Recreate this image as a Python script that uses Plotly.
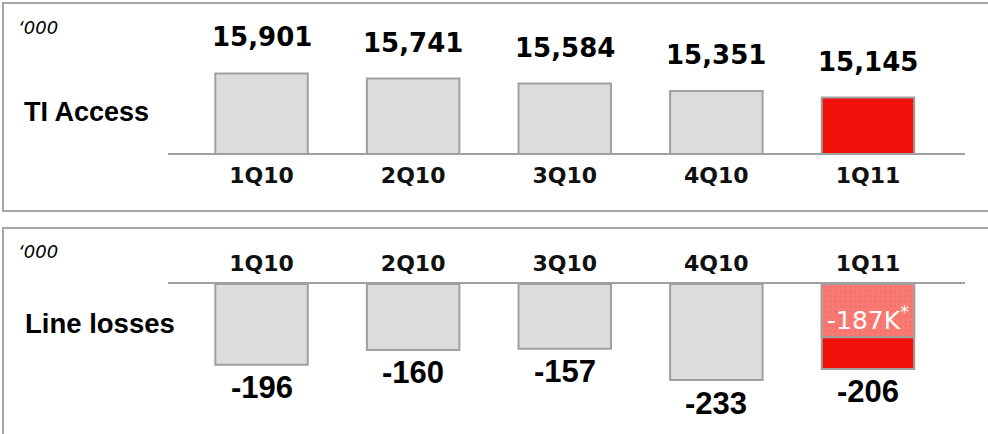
import plotly.graph_objects as go

# ---- data ----
quarters = ["1Q10", "2Q10", "3Q10", "4Q10", "1Q11"]
ti_access = [15901, 15741, 15584, 15351, 15145]
ti_access_labels = ["15,901", "15,741", "15,584", "15,351", "15,145"]
line_losses = [-196, -160, -157, -233, -206]
line_losses_labels = ["-196", "-160", "-157", "-233", "-206"]
hatched_quarter = ["1Q11"]
hatched_part = [-129]           # visual size of the dotted "-187K*" segment
hatched_label = "-187K<sup>*</sup>"
unit_label = "‘000"
row_titles = ["TI Access", "Line losses"]

# ---- styles ----
W, H = 988, 434
GRAY_FILL = "#dcdcdc"
EDGE = "#a0a0a0"
RED = "#f2100a"
LIGHT_RED = "#f97a72"
DOT_RED = "#e65a52"
FRAME = "#a6a6a6"
top_colors = [GRAY_FILL] * (len(quarters) - 1) + [RED]
bot_colors = [GRAY_FILL] * (len(quarters) - 1) + [RED]

def px_x(p):
    return p / W

def px_y(p):
    return 1 - p / H

BAR_W = 0.61
xrange_ = [-0.617, 4.64]
xdom = [px_x(168), px_x(965)]

fig = go.Figure()
fig.add_trace(go.Bar(
    x=quarters, y=ti_access, xaxis="x", yaxis="y", width=BAR_W,
    marker=dict(color=top_colors, line=dict(color=EDGE, width=2)),
    hoverinfo="skip", showlegend=False))
fig.add_trace(go.Bar(
    x=quarters, y=line_losses, xaxis="x2", yaxis="y2", width=BAR_W,
    marker=dict(color=bot_colors, line=dict(color=EDGE, width=2)),
    hoverinfo="skip", showlegend=False))
fig.add_trace(go.Bar(
    x=hatched_quarter, y=hatched_part, xaxis="x2", yaxis="y2", width=BAR_W,
    marker=dict(color=LIGHT_RED, line=dict(color=EDGE, width=2),
                pattern=dict(shape=".", fgcolor=DOT_RED, bgcolor=LIGHT_RED,
                             size=5, solidity=0.12)),
    hoverinfo="skip", showlegend=False))

cat_font = dict(family="DejaVu Sans", size=22, color="#111111")
axis_common = dict(
    type="category", categoryorder="array", categoryarray=quarters,
    range=xrange_, domain=xdom, showline=True, linecolor=EDGE, linewidth=2,
    showgrid=False, zeroline=False, ticks="", tickfont=cat_font,
    tickprefix="<b>", ticksuffix="</b>", fixedrange=True)

fig.update_layout(
    width=W, height=H, margin=dict(l=0, r=0, t=0, b=0),
    paper_bgcolor="white", plot_bgcolor="rgba(0,0,0,0)",
    barmode="overlay", showlegend=False,
    xaxis=dict(anchor="y", side="bottom", ticklabelstandoff=2, **axis_common),
    xaxis2=dict(anchor="y2", side="top", ticklabelstandoff=2, **axis_common),
    yaxis=dict(domain=[px_y(153), 1], range=[13400, 18211], visible=False,
               fixedrange=True),
    yaxis2=dict(domain=[0, px_y(284)], range=[-364, 0], visible=False,
                fixedrange=True),
)

ann = []
for q, v, t in zip(quarters, ti_access, ti_access_labels):
    ann.append(dict(x=q, y=v, xref="x", yref="y", text=f"<b>{t}</b>",
                    showarrow=False, yanchor="middle", yshift=36,
                    font=dict(family="DejaVu Sans", size=26, color="black")))
for q, v, t in zip(quarters, line_losses, line_losses_labels):
    ann.append(dict(x=q, y=v, xref="x2", yref="y2", text=f"<b>{t}</b>",
                    showarrow=False, yanchor="middle", yshift=-23,
                    font=dict(family="Liberation Sans", size=31, color="black")))
ann.append(dict(x=hatched_quarter[0], y=hatched_part[0], xref="x2", yref="y2",
                text=hatched_label, showarrow=False, yanchor="middle", yshift=19,
                font=dict(family="DejaVu Sans", size=25, color="white")))
ann.append(dict(x=px_x(16), y=px_y(27.5), xref="paper", yref="paper",
                text=f"<i>{unit_label}</i>", showarrow=False, xanchor="left",
                yanchor="middle", font=dict(family="DejaVu Sans", size=18, color="black")))
ann.append(dict(x=px_x(16), y=px_y(251), xref="paper", yref="paper",
                text=f"<i>{unit_label}</i>", showarrow=False, xanchor="left",
                yanchor="middle", font=dict(family="DejaVu Sans", size=18, color="black")))
ann.append(dict(x=px_x(22), y=px_y(112), xref="paper", yref="paper",
                text=f"<b>{row_titles[0]}</b>", showarrow=False, xanchor="left",
                yanchor="middle",
                font=dict(family="Liberation Sans", size=27, color="black")))
ann.append(dict(x=px_x(23), y=px_y(323), xref="paper", yref="paper",
                text=f"<b>{row_titles[1]}</b>", showarrow=False, xanchor="left",
                yanchor="middle",
                font=dict(family="Liberation Sans", size=27.5, color="black")))
fig.update_layout(annotations=ann)

# panel frames
fig.add_shape(type="rect", xref="paper", yref="paper",
              x0=px_x(3), x1=px_x(1000), y0=px_y(211), y1=px_y(3),
              line=dict(color=FRAME, width=2), fillcolor="rgba(0,0,0,0)", layer="below")
fig.add_shape(type="rect", xref="paper", yref="paper",
              x0=px_x(3), x1=px_x(1000), y0=px_y(450), y1=px_y(228),
              line=dict(color=FRAME, width=2), fillcolor="rgba(0,0,0,0)", layer="below")

fig.write_html("out.html", config=dict(displayModeBar=False))
